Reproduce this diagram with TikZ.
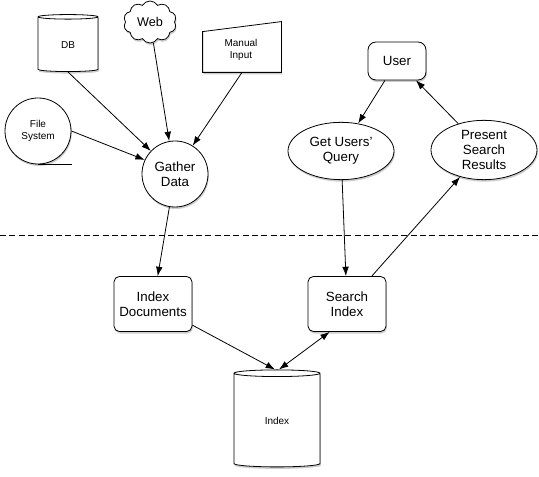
\documentclass[tikz,border=0pt]{standalone}
\usepackage{fontspec}
\setmainfont{Liberation Sans}
\usetikzlibrary{shapes.geometric,shapes.symbols,shadows,arrows.meta}

\begin{document}
\begin{tikzpicture}[x=0.75pt,y=-0.75pt,>={Latex[length=7pt,width=5pt]},line width=0.6pt]
\tikzstyle{shade}=[drop shadow={shadow xshift=0.6pt,shadow yshift=-1.5pt,opacity=0.4}]
\tikzstyle{every node}=[align=center,font=\fontsize{10}{11.5}\selectfont]
\tikzstyle{small}=[font=\fontsize{7.5}{9}\selectfont]
\tikzstyle{store}=[cylinder,shape border rotate=90,aspect=0.2,draw,fill=white,shade,small]
\tikzstyle{proc}=[rectangle,rounded corners=4pt,draw,fill=white,shade,minimum width=58.5pt,minimum height=41.25pt]
\tikzstyle{task}=[ellipse,draw,fill=white,shade,minimum width=79.5pt,minimum height=43pt,inner sep=0pt]
\useasboundingbox[fill=white] (0,0) rectangle (539,477);

\node[store,minimum width=45pt,minimum height=42.75pt](db) at (68,45) {DB};
\node[cloud,cloud puffs=10,cloud puff arc=120,aspect=1.4,draw,fill=white,shade,minimum width=37.5pt,minimum height=26pt,font=\fontsize{9.5}{11}\selectfont](web) at (150,22) {Web};
\node[minimum width=58.5pt,minimum height=37.5pt,inner sep=0pt](mi) at (242,47) {};
\draw[fill=white,shade] (mi.south west) -- (mi.south east) -- (mi.north east) -- ([yshift=-7.5pt]mi.north west) -- cycle;
\node[small](milabel) at (241,50) {Manual\\Input};
\node[circle,draw,fill=white,shade,small,minimum size=49.5pt](fs) at (38,131) {File\\System};
\node[circle,draw,fill=white,shade,minimum size=49.5pt,inner sep=0pt](gd) at (175,174) {Gather\\Data};

\node[rectangle,rounded corners=6pt,draw,fill=white,shade,minimum width=43.5pt,minimum height=28.5pt](us) at (397,61) {User};
\node[task](gq) at (341,151) {Get Users'\\Query};
\node[task,minimum height=44.5pt](ps) at (484,150) {Present\\Search\\Results};

\draw[dash pattern=on 4.5pt off 2.5pt] (0,235) -- (539,235);

\node[proc](id) at (153,304) {Index\\Documents};
\node[proc](si) at (347,304) {Search\\Index};
\node[store,minimum width=64.5pt,minimum height=72.75pt](ix) at (277,421) {Index};

\draw (fs.south) -- ([xshift=25.5pt]fs.south);
\draw[->] (db.south) -- (gd);
\draw[->] (web) -- (gd.100);
\draw[->] (mi.south) -- (gd.58);
\draw[->] (fs.east) -- (gd.155);
\draw[->] (gd) -- (id);
\draw[->] (us) -- (gq);
\draw[->] (ps) -- (us);
\draw[->] (gq) -- (si);
\draw[->] (si) -- (ps);
\draw[->] (id) -- ([xshift=-1.5pt]ix.north);
\draw[<->] ([xshift=-13pt]si.south) -- ([xshift=1.5pt]ix.north);
\end{tikzpicture}
\end{document}
